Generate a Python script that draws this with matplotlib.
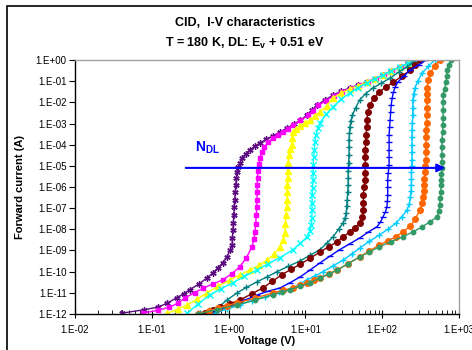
import math
import matplotlib
matplotlib.use("Agg")
import matplotlib.pyplot as plt
from matplotlib.patches import Rectangle
from matplotlib.ticker import LogLocator, FuncFormatter, NullFormatter

plt.rcParams['font.family'] = ['Liberation Sans', 'DejaVu Sans']
plt.rcParams['mathtext.fontset'] = 'custom'
plt.rcParams['mathtext.bf'] = 'Liberation Sans:bold'
plt.rcParams['mathtext.rm'] = 'Liberation Sans'
plt.rcParams['mathtext.default'] = 'bf'

# (voltage V, forward current A), one list per curve
purple = [(0.041, 1.1e-12), (0.08, 1.6e-12), (0.12, 2.1e-12), (0.16, 3.3e-12), (0.21, 5.8e-12),
          (0.26, 9e-12), (0.31, 1.4e-11), (0.41, 2.6e-11), (0.52, 5.0e-11), (0.62, 8.5e-11),
          (0.73, 1.5e-10), (0.84, 2.6e-10), (0.95, 4.9e-10), (1.04, 1.0e-9), (1.11, 1.8e-9),
          (1.12, 4e-9), (1.14, 9e-9), (1.15, 2e-8), (1.17, 5e-8), (1.18, 1.1e-7), (1.20, 2.5e-7),
          (1.22, 5.5e-7), (1.24, 1.2e-6), (1.26, 2.6e-6), (1.29, 5e-6), (1.34, 9e-6),
          (1.41, 1.4e-5), (1.49, 2.3e-5), (1.68, 3.7e-5), (1.9, 5.6e-5), (2.2, 8.5e-5),
          (2.57, 1.2e-4), (3.1, 1.8e-4), (3.78, 2.6e-4), (4.7, 4e-4), (5.76, 6.2e-4), (7.0, 9e-4),
          (8.5, 1.4e-3), (10.5, 2.5e-3), (12.2, 4.2e-3), (14.2, 7.5e-3), (18, 0.013),
          (22.9, 0.022), (29, 0.033), (38, 0.048), (49, 0.066), (63, 0.091), (80, 0.13),
          (102, 0.196), (130, 0.3), (170, 0.47), (215, 0.7), (267, 1.0)]

magenta = [(0.077, 1.1e-12), (0.12, 1.5e-12), (0.17, 2.1e-12), (0.22, 3.3e-12), (0.27, 5.8e-12),
           (0.36, 1e-11), (0.47, 1.7e-11), (0.62, 2.6e-11), (0.84, 4.1e-11), (1.1, 8e-11),
           (1.40, 1.7e-10), (1.7, 4.5e-10), (2.02, 1.5e-9), (2.15, 3.5e-9), (2.21, 7.6e-9),
           (2.25, 1.8e-8), (2.30, 5e-8), (2.32, 1.1e-7), (2.35, 2.5e-7), (2.35, 5.5e-7),
           (2.36, 1.2e-6), (2.38, 2.7e-6), (2.41, 6e-6), (2.48, 1.2e-5), (2.57, 2.3e-5),
           (2.7, 4.3e-5), (2.9, 7.8e-5), (3.3, 1.3e-4), (3.78, 2.1e-4), (4.4, 3e-4), (5.1, 4e-4),
           (5.9, 5.8e-4), (6.9, 8.5e-4), (8.6, 1.4e-3), (10.8, 2.4e-3), (12.6, 4.1e-3),
           (14.8, 7.2e-3), (18.5, 0.012), (23.5, 0.021), (30, 0.032), (39, 0.047), (50, 0.065),
           (65, 0.09), (82, 0.13), (105, 0.19), (135, 0.3), (175, 0.46), (220, 0.7), (270, 1.0)]

yellow = [(0.16, 1.1e-12), (0.22, 1.7e-12), (0.29, 2.7e-12), (0.39, 5e-12), (0.52, 9.8e-12),
          (0.72, 2e-11), (1.04, 4.1e-11), (1.4, 7e-11), (1.90, 1.2e-10), (2.5, 2e-10),
          (3.16, 3.5e-10), (3.9, 6.5e-10), (4.67, 1.5e-9), (5.1, 3.2e-9), (5.4, 6.8e-9),
          (5.5, 1.8e-8), (5.6, 5e-8), (5.7, 1.1e-7), (5.76, 2.5e-7), (5.76, 5.5e-7), (5.8, 1.2e-6),
          (5.85, 2.7e-6), (5.9, 6e-6), (6.0, 1.4e-5), (6.1, 3.3e-5), (6.3, 6e-5), (6.6, 9.7e-5),
          (6.75, 2e-4), (6.9, 4e-4), (7.6, 5.5e-4), (8.5, 7.6e-4), (9.9, 1.1e-3), (11.5, 1.5e-3),
          (13.3, 2.3e-3), (15.5, 3.5e-3), (19, 7e-3), (22.9, 0.016), (29, 0.027), (38, 0.043),
          (49, 0.062), (63, 0.088), (80, 0.13), (102, 0.19), (130, 0.3), (170, 0.46), (215, 0.7),
          (267, 1.0)]

cyan = [(0.29, 1.1e-12), (0.4, 3e-12), (0.57, 7.9e-12), (0.8, 1.6e-11), (1.14, 3e-11),
        (1.6, 6e-11), (2.34, 1.2e-10), (3.3, 2.4e-10), (4.67, 4.6e-10), (6.9, 1.1e-9),
        (8.6, 2.2e-9), (10.5, 4.4e-9), (11.4, 8.5e-9), (12.0, 1.6e-8), (12.1, 3.6e-8),
        (12.2, 8e-8), (12.2, 1.8e-7), (12.2, 4e-7), (12.4, 9e-7), (12.6, 2.1e-6), (12.6, 4.8e-6),
        (12.6, 1.1e-5), (12.8, 2.5e-5), (13.0, 5.6e-5), (13.3, 1.3e-4), (13.7, 2.9e-4),
        (14.5, 6e-4), (15.5, 1.1e-3), (18.5, 2.7e-3), (22.9, 6e-3), (29, 0.014), (38, 0.028),
        (49, 0.05), (63, 0.082), (80, 0.13), (102, 0.196), (130, 0.3), (170, 0.47), (215, 0.7),
        (267, 1.0)]

teal = [(0.42, 1.1e-12), (0.55, 1.5e-12), (0.73, 2.1e-12), (0.95, 4.5e-12), (1.28, 9.8e-12),
        (1.7, 1.8e-11), (2.34, 3.3e-11), (3.2, 5.8e-11), (4.27, 1e-10), (6.0, 1.8e-10),
        (8.5, 3.2e-10), (11.5, 6e-10), (15.5, 1.1e-9), (19, 2.2e-9), (22.9, 4.4e-9), (27, 1e-8),
        (30.9, 2e-8), (33, 3.5e-8), (34, 5.9e-8), (34.5, 1.2e-7), (35, 2.5e-7), (35.5, 5.5e-7),
        (36, 1.2e-6), (36, 2.7e-6), (36, 6e-6), (36.5, 1.4e-5), (37, 3.3e-5), (37, 7.5e-5),
        (37, 1.7e-4), (37.5, 3.4e-4), (38, 6.9e-4), (39, 1.3e-3), (41, 2.5e-3), (45, 5.5e-3),
        (51, 0.013), (61, 0.026), (76, 0.048), (97, 0.08), (127, 0.14), (165, 0.27), (210, 0.47),
        (245, 0.7), (284, 1.0)]

darkred = [(0.49, 1.1e-12), (0.62, 1.5e-12), (0.78, 2.1e-12), (1.05, 3.1e-12), (1.41, 4.6e-12),
           (2.0, 9e-12), (2.8, 1.7e-11), (3.7, 3.5e-11), (4.96, 7.2e-11), (6.5, 1.3e-10),
           (8.5, 2.2e-10), (11.5, 4.3e-10), (15.5, 8.5e-10), (20, 1.5e-9), (26, 2.6e-9),
           (31, 4.4e-9), (38, 7.6e-9), (44, 1.2e-8), (51, 2e-8), (55, 3.8e-8), (57, 8e-8),
           (57, 1.8e-7), (57, 4.2e-7), (58, 9.5e-7), (60, 2.1e-6), (60, 4.8e-6), (60, 1.1e-5),
           (60, 2.5e-5), (60, 5.6e-5), (61, 1.3e-4), (62, 2.9e-4), (62.5, 6.6e-4), (63, 1.5e-3),
           (65, 3.4e-3), (69, 7.5e-3), (78, 0.016), (92, 0.031), (112, 0.053), (140, 0.091),
           (180, 0.17), (233, 0.34), (270, 0.6), (310, 1.0)]

blue = [(0.57, 1.1e-12), (0.85, 2e-12), (1.28, 3.3e-12), (1.75, 5e-12), (2.34, 7.9e-12),
        (3.3, 1.2e-11), (4.67, 1.7e-11), (6.3, 3e-11), (8.5, 5.6e-11), (11.5, 1.2e-10),
        (15.5, 2.6e-10), (21, 5.5e-10), (28, 1.1e-9), (38, 2.1e-9), (51, 3.9e-9), (66, 7.5e-9),
        (85, 1.3e-8), (95, 2.2e-8), (102, 3.8e-8), (110, 6.5e-8), (115, 1.1e-7), (117, 2.2e-7),
        (118, 4.2e-7), (118, 9.5e-7), (118, 2.1e-6), (120, 4.8e-6), (123, 1.1e-5), (123, 2.5e-5),
        (123, 5.6e-5), (123, 1.3e-4), (123, 2.9e-4), (125, 6.6e-4), (127, 1.5e-3), (129, 3.4e-3),
        (131, 7.5e-3), (135, 0.016), (140, 0.031), (148, 0.053), (160, 0.091), (190, 0.17),
        (233, 0.34), (300, 0.6), (372, 1.0)]

sky = [(0.66, 1.1e-12), (0.95, 1.7e-12), (1.4, 2.7e-12), (2.0, 4.2e-12), (2.96, 6.4e-12),
       (4.5, 1.1e-11), (6.9, 1.7e-11), (8.5, 2.7e-11), (10.5, 4.1e-11), (13.5, 6.5e-11),
       (17, 1e-10), (23, 1.9e-10), (30.9, 3.5e-10), (40, 6.8e-10), (51, 1.3e-9), (68, 2.7e-9),
       (92, 5.4e-9), (118, 1e-8), (150, 1.9e-8), (180, 3.9e-8), (210, 8e-8), (225, 1.6e-7),
       (233, 3.4e-7), (237, 6.5e-7), (240, 1.2e-6), (240, 2.5e-6), (240, 5e-6), (242, 9.8e-6),
       (244, 1.9e-5), (244, 4.3e-5), (244, 9.7e-5), (244, 2.2e-4), (244, 4.9e-4), (247, 1.1e-3),
       (250, 2.5e-3), (250, 5.7e-3), (250, 0.013), (257, 0.025), (267, 0.048), (290, 0.1),
       (330, 0.24), (400, 0.5), (480, 1.0)]

orange = [(0.4, 1e-12), (0.55, 1.4e-12), (0.73, 1.9e-12), (0.95, 2.5e-12), (1.28, 3.3e-12),
          (2.2, 5.7e-12), (3.78, 9.8e-12), (5.1, 1.3e-11), (6.9, 1.7e-11), (8.5, 2.3e-11),
          (10.5, 3e-11), (12.8, 3.9e-11), (15.5, 5e-11), (20, 8e-11), (26, 1.2e-10),
          (36, 2.4e-10), (51, 5e-10), (68, 9.5e-10), (92, 1.8e-9), (118, 2.9e-9), (150, 4.4e-9),
          (185, 7.5e-9), (233, 1.4e-8), (270, 3.2e-8), (310, 8e-8), (330, 1.7e-7), (337, 3.4e-7),
          (345, 6.5e-7), (350, 1.2e-6), (355, 2.5e-6), (360, 5e-6), (366, 9.8e-6), (372, 1.9e-5),
          (372, 4.3e-5), (372, 9.7e-5), (372, 2.2e-4), (372, 4.9e-4), (378, 1.1e-3),
          (385, 2.5e-3), (385, 5.7e-3), (385, 0.013), (385, 0.025), (385, 0.048), (395, 0.11),
          (420, 0.24), (480, 0.5), (560, 1.0)]

green = [(0.4, 1e-12), (0.7, 1.6e-12), (1.28, 2.7e-12), (2.2, 4.6e-12), (3.78, 7.9e-12),
         (4.9, 1.05e-11), (6.3, 1.4e-11), (8.5, 2e-11), (11.5, 3e-11), (15.5, 5e-11),
         (20, 7.5e-11), (26, 1.2e-10), (36, 2.4e-10), (51, 5e-10), (68, 8.5e-10), (92, 1.5e-9),
         (130, 2.6e-9), (185, 4.4e-9), (250, 7.5e-9), (330, 1.3e-8), (420, 2.3e-8),
         (520, 3.9e-8), (545, 7.5e-8), (560, 1.4e-7), (570, 2.9e-7), (580, 5.9e-7),
         (580, 1.2e-6), (580, 2.1e-6), (590, 4.2e-6), (600, 8e-6), (600, 1.6e-5), (600, 3.3e-5),
         (600, 7.5e-5), (600, 1.7e-4), (610, 3.8e-4), (620, 8.5e-4), (620, 1.9e-3),
         (620, 4.3e-3), (620, 0.01), (620, 0.022), (650, 0.045), (680, 0.091), (690, 0.18),
         (700, 0.34), (740, 0.6), (790, 1.0)]

# curve, colour, marker, marker size
series = [
    (purple, '#5C0A80', (6, 2, 0), 4.5),
    (magenta, '#FF00FF', 's', 3.5),
    (yellow, '#FFFF00', '^', 4),
    (cyan, '#00FFFF', 'x', 3.8),
    (teal, '#008080', '+', 5),
    (darkred, '#800000', 'o', 4),
    (blue, '#0000FF', '_', 4),
    (sky, '#00CCFF', '+', 5),
    (orange, '#FF6600', 'o', 4),
    (green, '#339966', 'o', 3.2),
]

fig = plt.figure(figsize=(4.72, 3.5), dpi=100)
ax = fig.add_axes([75 / 472, 1 - 314 / 350, 384 / 472, 254 / 350])

for pts, col, mk, ms in series:
    v, i = zip(*pts)
    ax.plot(v, i, color=col, lw=1.0, marker=mk, ms=ms, mew=1.0, mfc=col, mec=col)

ax.set_xscale('log')
ax.set_yscale('log')
ax.set_xlim(1e-2, 1e3)
ax.set_ylim(1e-12, 1e0)

sci = FuncFormatter(lambda val, pos: '1.E%+03d' % round(math.log10(val)))
ax.xaxis.set_major_locator(LogLocator(base=10, numticks=20))
ax.yaxis.set_major_locator(LogLocator(base=10, numticks=20))
ax.xaxis.set_minor_locator(LogLocator(base=10, subs=range(2, 10), numticks=20))
ax.yaxis.set_minor_locator(LogLocator(base=10, subs=[], numticks=20))
ax.xaxis.set_major_formatter(sci)
ax.yaxis.set_major_formatter(sci)
ax.xaxis.set_minor_formatter(NullFormatter())
ax.tick_params(axis='x', which='major', direction='inout', length=6, width=0.8, labelsize=7, pad=5)
ax.tick_params(axis='x', which='minor', direction='in', length=3, width=0.6)
ax.tick_params(axis='y', which='major', direction='out', length=4, width=0.8, labelsize=7, pad=2)

for s in ['left', 'bottom']:
    ax.spines[s].set_color('black')
    ax.spines[s].set_linewidth(1.0)
for s in ['top', 'right']:
    ax.spines[s].set_color('#A0A0A0')
    ax.spines[s].set_linewidth(1.0)

ax.set_xlabel('Voltage (V)', fontsize=8, fontweight='bold', labelpad=1)
ax.set_ylabel('Forward current (A)', fontsize=8, fontweight='bold', labelpad=8)

# N_DL arrow
ax.annotate('', xy=(720, 8e-6), xytext=(0.255, 8e-6),
            arrowprops=dict(arrowstyle='-|>', color='#0000FF', lw=1.5, mutation_scale=12))
ax.text(0.365, 6.9e-5, r'N$_{\mathbf{DL}}$', color='#0000FF', fontsize=10,
        fontweight='bold', va='center', ha='left')

fig.text(245 / 472, 1 - 23 / 350, 'CID,  I-V characteristics', ha='center', va='center',
         fontsize=9, fontweight='bold')
fig.text(245 / 472, 1 - 43 / 350, r'T = 180 K, DL: E$_{\mathbf{v}}$ + 0.51 eV', ha='center',
         va='center', fontsize=9, fontweight='bold')

fig.add_artist(Rectangle((7 / 472, -1), 2, 1 - 6 / 350 + 1, transform=fig.transFigure,
                         fill=False, ec='black', lw=1.2))

fig.savefig('out.png', dpi=100)
